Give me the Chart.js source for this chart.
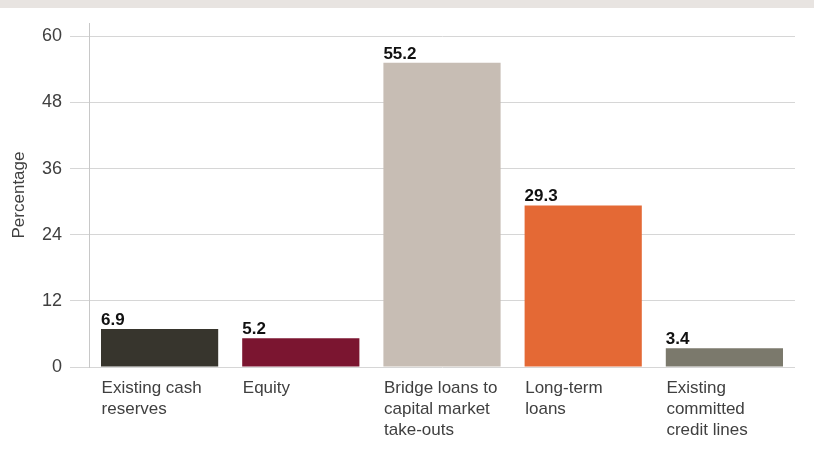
<!DOCTYPE html>
<html>
<head>
<meta charset="utf-8">
<script src="https://cdn.jsdelivr.net/npm/chart.js@4.4.1/dist/chart.umd.min.js"></script>
<style>
  html, body { margin: 0; padding: 0; background: #ffffff; }
  #wrap { position: relative; width: 814px; height: 467px; }
  #band { position: absolute; left: 0; top: 0; width: 814px; height: 8px; background: #e8e4e1; }
  #chart { position: absolute; left: 0; top: 0; }
</style>
</head>
<body>
<div id="wrap">
  <div id="band"></div>
  <canvas id="chart" width="814" height="467"></canvas>
</div>
<script>
// données du graphique
const categories = [
    ['Existing cash', 'reserves'],
    ['Equity'],
    ['Bridge loans to', 'capital market', 'take-outs'],
    ['Long-term', 'loans'],
    ['Existing', 'committed', 'credit lines']
];
const values = [6.9, 5.2, 55.2, 29.3, 3.4];
const barColors = ['#37352d', '#7b1530', '#c7bdb4', '#e46935', '#7b796c'];
const yTicks = [0, 12, 24, 36, 48, 60];

const fontFamily = '"Liberation Sans", Arial, Helvetica, sans-serif';

// étiquettes de valeur au-dessus des barres, alignées à gauche
const valueLabels = {
    id: 'valueLabels',
    afterDatasetsDraw(chart) {
        const ctx = chart.ctx;
        const meta = chart.getDatasetMeta(0);
        ctx.save();
        ctx.font = 'bold 17px ' + fontFamily;
        ctx.fillStyle = '#111111';
        ctx.textAlign = 'left';
        ctx.textBaseline = 'alphabetic';
        meta.data.forEach(function (bar, i) {
            ctx.fillText(values[i].toFixed(1), bar.x - bar.width / 2, bar.y - 4);
        });
        ctx.restore();
    }
};

const ctx = document.getElementById('chart').getContext('2d');
new Chart(ctx, {
    type: 'bar',
    data: {
        labels: categories,
        datasets: [{
            data: values,
            backgroundColor: barColors,
            borderWidth: 0,
            categoryPercentage: 1,
            barPercentage: 0.83
        }]
    },
    options: {
        responsive: false,
        animation: false,
        devicePixelRatio: 1,
        layout: { padding: { top: 23, right: 19, left: 0, bottom: 0 } },
        plugins: {
            legend: { display: false },
            tooltip: { enabled: false }
        },
        scales: {
            x: {
                grid: { display: false, drawTicks: false },
                border: { display: false },
                ticks: {
                    color: '#404040',
                    font: { family: fontFamily, size: 17, lineHeight: 1.24 },
                    align: 'start',
                    labelOffset: -58,
                    padding: 11,
                    maxRotation: 0,
                    autoSkip: false
                },
                afterFit: function (scale) {
                    scale.height = 100;
                    scale.paddingLeft = 0;
                    scale.paddingRight = 0;
                }
            },
            y: {
                min: 0,
                max: 62.4,
                afterBuildTicks: function (scale) {
                    scale.ticks = yTicks.map(function (v) { return { value: v }; });
                },
                grid: {
                    color: '#d6d6d6',
                    lineWidth: 1,
                    tickLength: 19,
                    tickColor: '#d6d6d6'
                },
                border: { color: '#c8c8c8', width: 1 },
                ticks: {
                    color: '#404040',
                    font: { family: fontFamily, size: 18 },
                    padding: 8
                },
                title: {
                    display: true,
                    text: 'Percentage',
                    color: '#404040',
                    font: { family: fontFamily, size: 17 },
                    padding: { top: 9, bottom: 0 }
                },
                afterFit: function (scale) {
                    scale.width = 89;
                    scale.paddingTop = 0;
                    scale.paddingBottom = 0;
                }
            }
        }
    },
    plugins: [valueLabels]
});
</script>
</body>
</html>
